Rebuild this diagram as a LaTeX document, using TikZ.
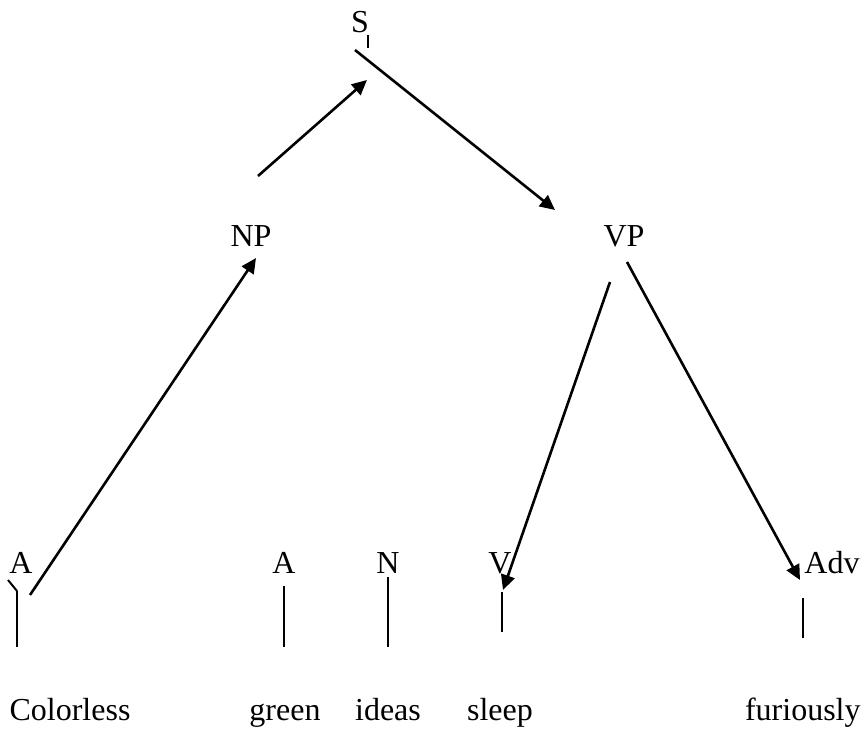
\documentclass[tikz,border=0pt]{standalone}
\usepackage{fontspec}
\setmainfont{Liberation Serif}
\usetikzlibrary{arrows.meta}

\begin{document}
\begin{tikzpicture}[
  x=0.5pt, y=-0.5pt,
  lbl/.style={anchor=base,inner sep=0pt,font=\fontsize{16}{19}\selectfont},
  arr/.style={-{Triangle[length=7.5pt,width=7pt]},line width=1.3pt},
  stem/.style={line width=1pt}
]
\useasboundingbox (0,0) rectangle (863,731);

% category labels
\node[lbl] (s) at (360,33) {S};
\node[lbl] (np) at (251,247) {NP};
\node[lbl] (vp) at (624,247) {VP};
\node[lbl] (a1) at (21,574) {A};
\node[lbl] (a2) at (284,574) {A};
\node[lbl] (n) at (388,574) {N};
\node[lbl] (v) at (500,574) {V};
\node[lbl] (adv) at (832,574) {Adv};

% the sentence
\node[lbl] (w1) at (70,721) {Colorless};
\node[lbl] (w2) at (285,721) {green};
\node[lbl] (w3) at (388,721) {ideas};
\node[lbl] (w4) at (500,721) {sleep};
\node[lbl,anchor=base east] (w5) at (861,721) {furiously};

% arrow ends
\coordinate (s-in) at (367,80);
\coordinate (s-out) at (355,50);
\coordinate (np-in) at (256,258);
\coordinate (np-out) at (258,176);
\coordinate (vp-in) at (555,210);
\coordinate (vp-l) at (610,282);
\coordinate (vp-r) at (627,262);
\coordinate (a1-out) at (30,595);
\coordinate (v-in) at (503,590);
\coordinate (adv-in) at (800,580);

\draw[arr] (a1-out) -- (np-in);
\draw[arr] (np-out) -- (s-in);
\draw[arr] (s-out) -- (vp-in);
\draw[arr] (vp-l) -- (v-in);
\draw[arr] (vp-r) -- (adv-in);

% stems down to the words
\coordinate (a1-top) at (17,591);  \coordinate (w1-top) at (17,647);
\coordinate (a2-top) at (284,586); \coordinate (w2-top) at (284,647);
\coordinate (n-top) at (388,577);  \coordinate (w3-top) at (388,647);
\coordinate (v-top) at (502,592);  \coordinate (w4-top) at (502,632);
\coordinate (adv-top) at (803,598); \coordinate (w5-top) at (803,638);
\draw[stem] (a1-top) -- (w1-top);
\draw[stem] (a2-top) -- (w2-top);
\draw[stem] (n-top) -- (w3-top);
\draw[stem] (v-top) -- (w4-top);
\draw[stem] (adv-top) -- (w5-top);

% stray ticks
\coordinate (s-tick) at (368,35);
\draw[stem] (s-tick) -- ++(0,13);
\coordinate (a1-tick) at (8,580);
\draw[stem] (a1-tick) -- (a1-top);
\end{tikzpicture}
\end{document}
